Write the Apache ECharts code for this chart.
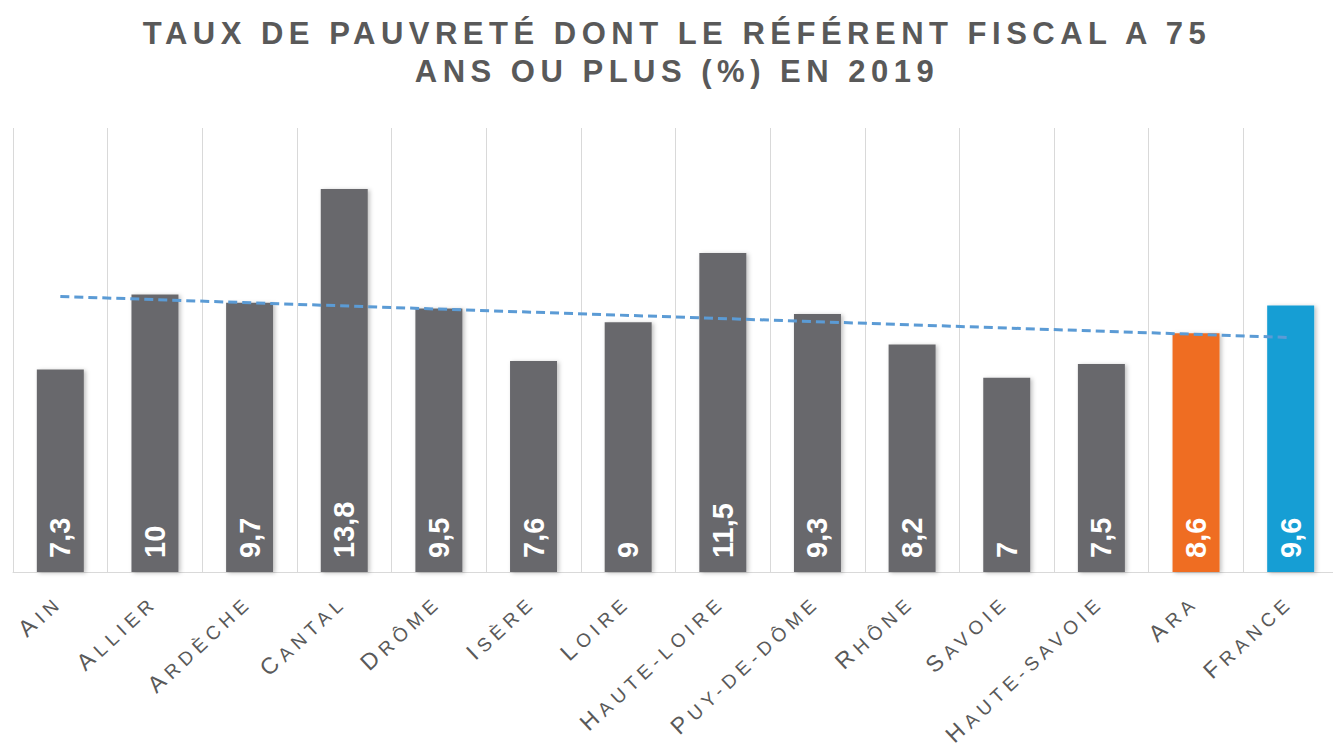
<!DOCTYPE html>
<html>
<head>
<meta charset="utf-8">
<script src="https://cdn.jsdelivr.net/npm/echarts@6/dist/echarts.min.js"></script>
<style>
  html, body { margin: 0; padding: 0; background: #fff; }
  #chart { width: 1333px; height: 756px; }
  /* espacement des lettres du titre et des libellés (rendu svg) */
  #chart text[style*="31px"] { letter-spacing: 5.5px; }
  #chart text[style*="19px"], #chart text[style*="23px"] { letter-spacing: 5.2px; }
</style>
</head>
<body>
<div id="chart"></div>
<script>
const categories = ['AIN', 'ALLIER', 'ARDÈCHE', 'CANTAL', 'DRÔME', 'ISÈRE', 'LOIRE',
  'HAUTE-LOIRE', 'PUY-DE-DÔME', 'RHÔNE', 'SAVOIE', 'HAUTE-SAVOIE', 'ARA', 'FRANCE'];
const values = [7.3, 10, 9.7, 13.8, 9.5, 7.6, 9, 11.5, 9.3, 8.2, 7, 7.5, 8.6, 9.6];
// courbe de tendance (début Ain, fin France)
const trendStart = 9.93;
const trendEnd = 8.45;

const trend = categories.map((c, i) => i === 0 ? trendStart : (i === categories.length - 1 ? trendEnd : null));

const grey = '#68686c';
const orange = '#ef6d22';
const blue = '#199ed4';
const textColor = '#595959';
const spacing = 5.2;

// styles « petites capitales » : première lettre plus grande
const rich = {
  f: { fontSize: 23, fontFamily: 'Liberation Sans', color: textColor, verticalAlign: 'bottom' }
};
for (let n = 1; n <= 12; n++) {
  rich['r' + n] = {
    fontSize: 19,
    fontFamily: 'Liberation Sans',
    color: textColor,
    verticalAlign: 'bottom',
    padding: [0, 3, 0, n * spacing]
  };
}

const myChart = echarts.init(document.getElementById('chart'), null, { renderer: 'svg' });
myChart.setOption({
  animation: false,
  backgroundColor: '#ffffff',
  title: {
    text: 'TAUX DE PAUVRETÉ DONT LE RÉFÉRENT FISCAL A 75\nANS OU PLUS (%) EN 2019',
    left: 672,
    textAlign: 'center',
    top: 9,
    textStyle: {
      color: textColor,
      fontFamily: 'Liberation Sans',
      fontWeight: 'bold',
      fontSize: 31,
      lineHeight: 38
    }
  },
  grid: {
    left: 13,
    width: 1325,
    top: 128,
    bottom: 184,
    outerBoundsMode: 'none'
  },
  xAxis: {
    type: 'category',
    data: categories,
    axisTick: { show: false },
    axisLine: { lineStyle: { color: '#d9d9d9', width: 1 } },
    splitLine: { show: true, lineStyle: { color: '#d9d9d9', width: 1 } },
    axisLabel: {
      interval: 0,
      rotate: 43,
      margin: 24,
      formatter: function (v) {
        return '{f|' + v[0] + '}{r' + (v.length - 1) + '|' + v.slice(1) + '}';
      },
      rich: rich
    }
  },
  yAxis: {
    type: 'value',
    min: 0,
    max: 16,
    show: false
  },
  series: [
    {
      type: 'bar',
      data: values,
      barWidth: 47,
      itemStyle: {
        color: function (p) {
          if (p.name === 'ARA') return orange;
          if (p.name === 'FRANCE') return blue;
          return grey;
        },
        shadowColor: 'rgba(0,0,0,0.25)',
        shadowBlur: 4,
        shadowOffsetX: 2,
        shadowOffsetY: 1
      },
      label: {
        show: true,
        position: 'insideBottom',
        rotate: 90,
        align: 'left',
        verticalAlign: 'middle',
        distance: 14,
        color: '#ffffff',
        fontFamily: 'Liberation Sans',
        fontWeight: 'bold',
        fontSize: 29,
        formatter: function (p) {
          return String(p.value).replace('.', ',');
        }
      }
    },
    {
      type: 'line',
      data: trend,
      connectNulls: true,
      symbol: 'none',
      z: 3,
      lineStyle: {
        color: '#5b9bd5',
        width: 3,
        type: [9, 5]
      }
    }
  ]
});
</script>
</body>
</html>
